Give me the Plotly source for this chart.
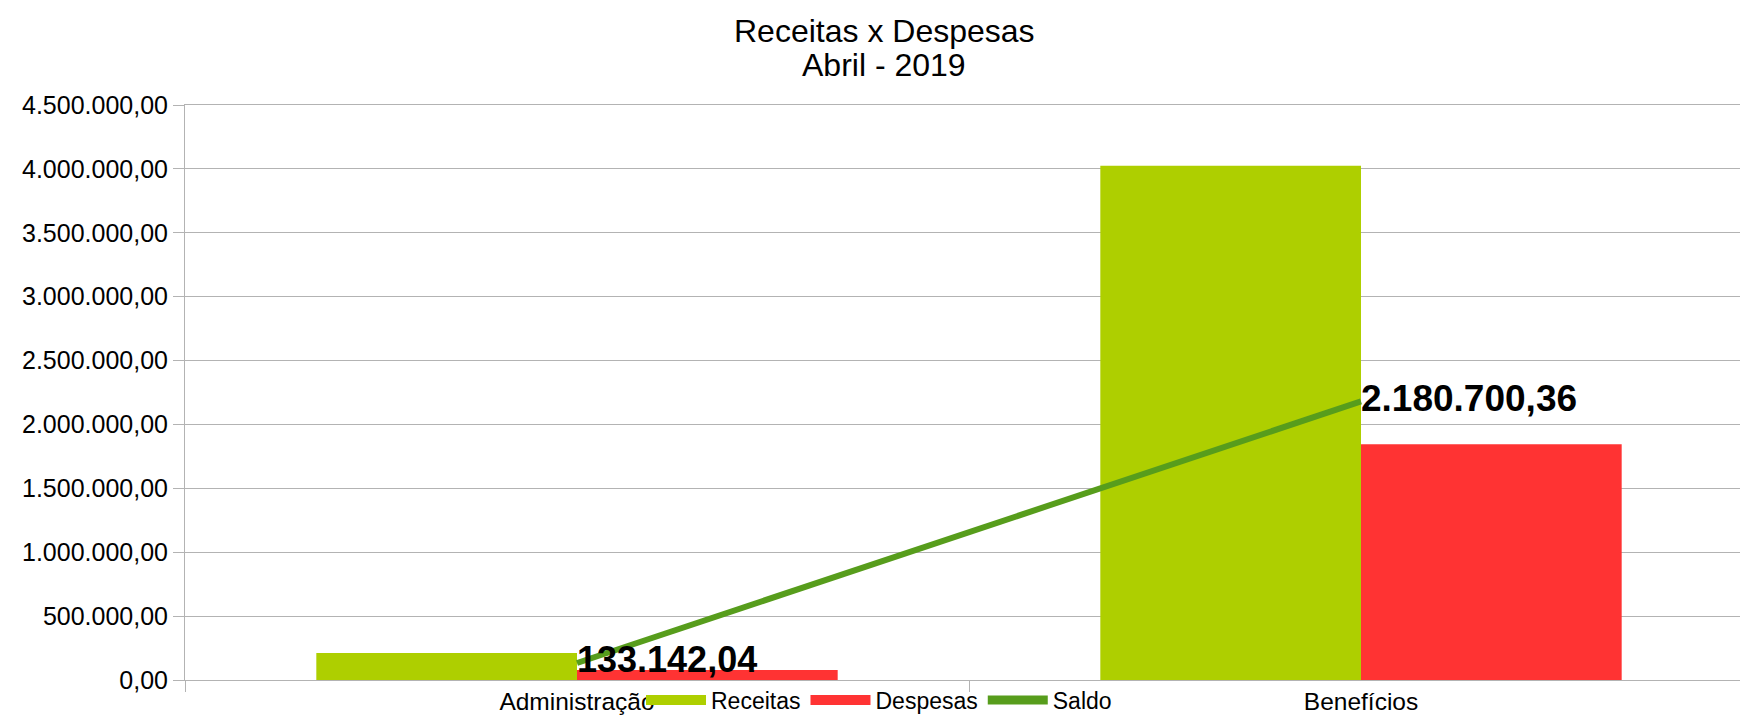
import plotly.graph_objects as go

categorias = ["Administração", "Benefícios"]
receitas = [211900, 4025000]
despesas = [78758, 1844300]
saldo = [133142.04, 2180700.36]

y_ticks = [0, 500000, 1000000, 1500000, 2000000, 2500000, 3000000, 3500000, 4000000, 4500000]
titulo = ["Receitas x Despesas", "Abril - 2019"]


def fmt_br(v):
    s = f"{v:,.2f}"
    return s.replace(",", "X").replace(".", ",").replace("X", ".")


COL_REC = "#aecf00"
COL_DES = "#ff3333"
COL_SAL = "#579d1c"
COL_GRID = "#b3b3b3"
FONT = "Liberation Sans, Arial, sans-serif"
LABEL_SIZES = [36, 37]

W, H = 1748, 719
ML, MR, MT, MB = 177, 3, 97, 47
PH = H - MT - MB
PW = W - ML - MR


def py(y_px):
    return (H - MB - y_px) / PH


def px(x_px):
    return (x_px - ML) / PW


fig = go.Figure()
fig.add_trace(go.Bar(x=categorias, y=receitas, name="Receitas", marker=dict(color=COL_REC, line=dict(width=0)),
                     showlegend=False, legendgroup="r"))
fig.add_trace(go.Bar(x=categorias, y=despesas, name="Despesas", marker=dict(color=COL_DES, line=dict(width=0)),
                     showlegend=False, legendgroup="d"))
fig.add_trace(go.Scatter(x=categorias, y=saldo, name="Saldo", mode="lines+text",
                         line=dict(color=COL_SAL, width=6),
                         text=[fmt_br(v) for v in saldo], textposition="middle right",
                         textfont=dict(family=FONT, size=LABEL_SIZES, color="#000000", weight="bold"),
                         showlegend=False, legendgroup="s", cliponaxis=False))
# legend entries
fig.add_trace(go.Scatter(x=[None], y=[None], mode="lines", name="Receitas", legendgroup="r",
                         line=dict(color=COL_REC, width=14)))
fig.add_trace(go.Scatter(x=[None], y=[None], mode="lines", name="Despesas", legendgroup="d",
                         line=dict(color=COL_DES, width=14)))
fig.add_trace(go.Scatter(x=[None], y=[None], mode="lines", name="Saldo", legendgroup="s",
                         line=dict(color=COL_SAL, width=9)))

annotations = [
    dict(text=titulo[0], x=px(876), y=py(23.5), xref="paper", yref="paper", showarrow=False,
         xanchor="center", yanchor="middle", font=dict(family=FONT, size=32, color="#000000")),
    dict(text=titulo[1], x=px(876), y=py(57), xref="paper", yref="paper", showarrow=False,
         xanchor="center", yanchor="middle", font=dict(family=FONT, size=32, color="#000000")),
]

fig.update_layout(
    width=W, height=H,
    paper_bgcolor="white", plot_bgcolor="white",
    separators=",.",
    font=dict(family=FONT, size=25, color="#000000"),
    annotations=annotations,
    margin=dict(l=ML, r=MR, t=MT, b=MB, autoexpand=False),
    barmode="group", bargap=0.335, bargroupgap=0,
    showlegend=True,
    legend=dict(orientation="h", xref="paper", yref="paper", x=px(871), xanchor="center",
                y=py(692), yanchor="middle", font=dict(family=FONT, size=23, color="#000000"),
                itemwidth=60, tracegroupgap=0, bgcolor="rgba(0,0,0,0)", traceorder="normal"),
    xaxis=dict(type="category", showline=True, linecolor=COL_GRID, linewidth=1, mirror=True,
               ticks="outside", tickson="boundaries", ticklen=11, tickcolor=COL_GRID,
               showgrid=False, automargin=False, tickfont=dict(family=FONT, size=24.5, color="#000000")),
    yaxis=dict(range=[0, 4500000], tickvals=y_ticks, tickformat=",.2f",
               showline=True, linecolor=COL_GRID, linewidth=1, mirror=True,
               ticks="outside", ticklen=11, tickcolor=COL_GRID, automargin=False,
               showgrid=True, gridcolor=COL_GRID, gridwidth=1, zeroline=False,
               tickfont=dict(family=FONT, size=25, color="#000000")),
)

fig.write_html("out.html")
